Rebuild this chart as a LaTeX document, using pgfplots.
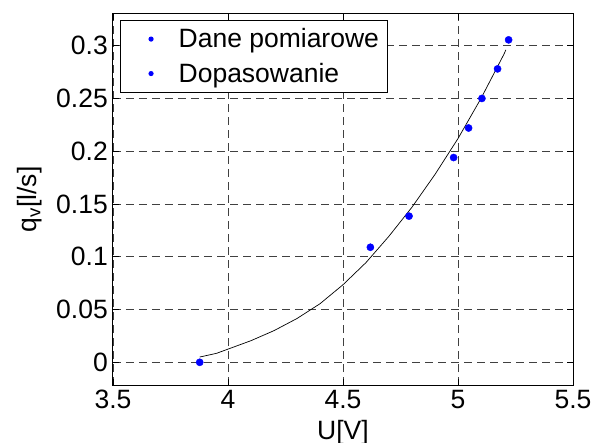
\documentclass[border=0pt]{standalone}
\usepackage{fontspec}
\setmainfont{Liberation Sans}
\usepackage{pgfplots}
\pgfplotsset{compat=1.18}
\newcommand{\fs}{\fontsize{26.5bp}{31bp}\selectfont}
\pgfplotsset{dotlegend/.style={legend image code/.code={%
  \path[draw=none,fill=none] (0bp,0bp) -- (44bp,0bp);
  \fill[blue, draw=none] (22bp,0bp) circle (2.6bp);}}}
\begin{document}
\begin{tikzpicture}
\useasboundingbox (-113bp,-58bp) rectangle (480bp,385bp);
\begin{axis}[
 at={(0,0)}, anchor=south west,
 scale only axis, width=460bp, height=371bp,
 xmin=3.5, xmax=5.5, ymin=-0.0215, ymax=0.33,
 xtick={3.5,4,4.5,5,5.5}, xticklabels={3.5,4,4.5,5,5.5},
 ytick={0,0.05,0.1,0.15,0.2,0.25,0.3}, yticklabels={0,0.05,0.1,0.15,0.2,0.25,0.3},
 tick label style={font=\fs},
 xticklabel style={yshift=-1.5bp},
 yticklabel style={inner xsep=5bp},
 label style={font=\fs},
 xlabel={U[V]}, ylabel={q\textsubscript{v}[l/s]},
 xlabel style={at={(axis description cs:0.5,-0.146)}, anchor=base},
 ylabel style={at={(axis description cs:-0.166,0.5)}, anchor=base},
 grid=major,
 major grid style={dash pattern=on 8bp off 5bp, black!75, line width=0.8bp},
 axis line style={line width=1bp},
 tick align=inside, major tick length=6bp, tick style={black, line width=0.8bp},
 legend cell align=left,
 legend style={at={(axis description cs:0.016,0.984)}, anchor=north west,
   draw=black, line width=0.8bp, fill=white, font=\fs,
   inner xsep=8.3bp, inner ysep=3.5bp, column sep=5.6bp, row sep=4bp,
   nodes={inner xsep=0pt, inner ysep=4.6bp, text depth=0.21em}},
]
\addplot[only marks, mark=*, mark size=3.6bp, blue, fill=blue, dotlegend] coordinates {
 (3.877,0) (4.619,0.109) (4.787,0.1385) (4.981,0.194) (5.046,0.222) (5.104,0.250) (5.172,0.278) (5.22,0.3055)};
\addlegendentry{Dane pomiarowe}
\addplot[black, line width=0.7bp, dotlegend] coordinates {
 (3.877,0.005) (3.95,0.0085) (4.00,0.0125) (4.10,0.0205) (4.20,0.0300) (4.30,0.0415)
 (4.40,0.0555) (4.50,0.0735) (4.60,0.0945) (4.70,0.1195) (4.80,0.1470) (4.90,0.1780)
 (5.00,0.2120) (5.10,0.2500) (5.20,0.2920) (5.208,0.296)};
\addlegendentry{Dopasowanie}
\end{axis}
\end{tikzpicture}
\end{document}
